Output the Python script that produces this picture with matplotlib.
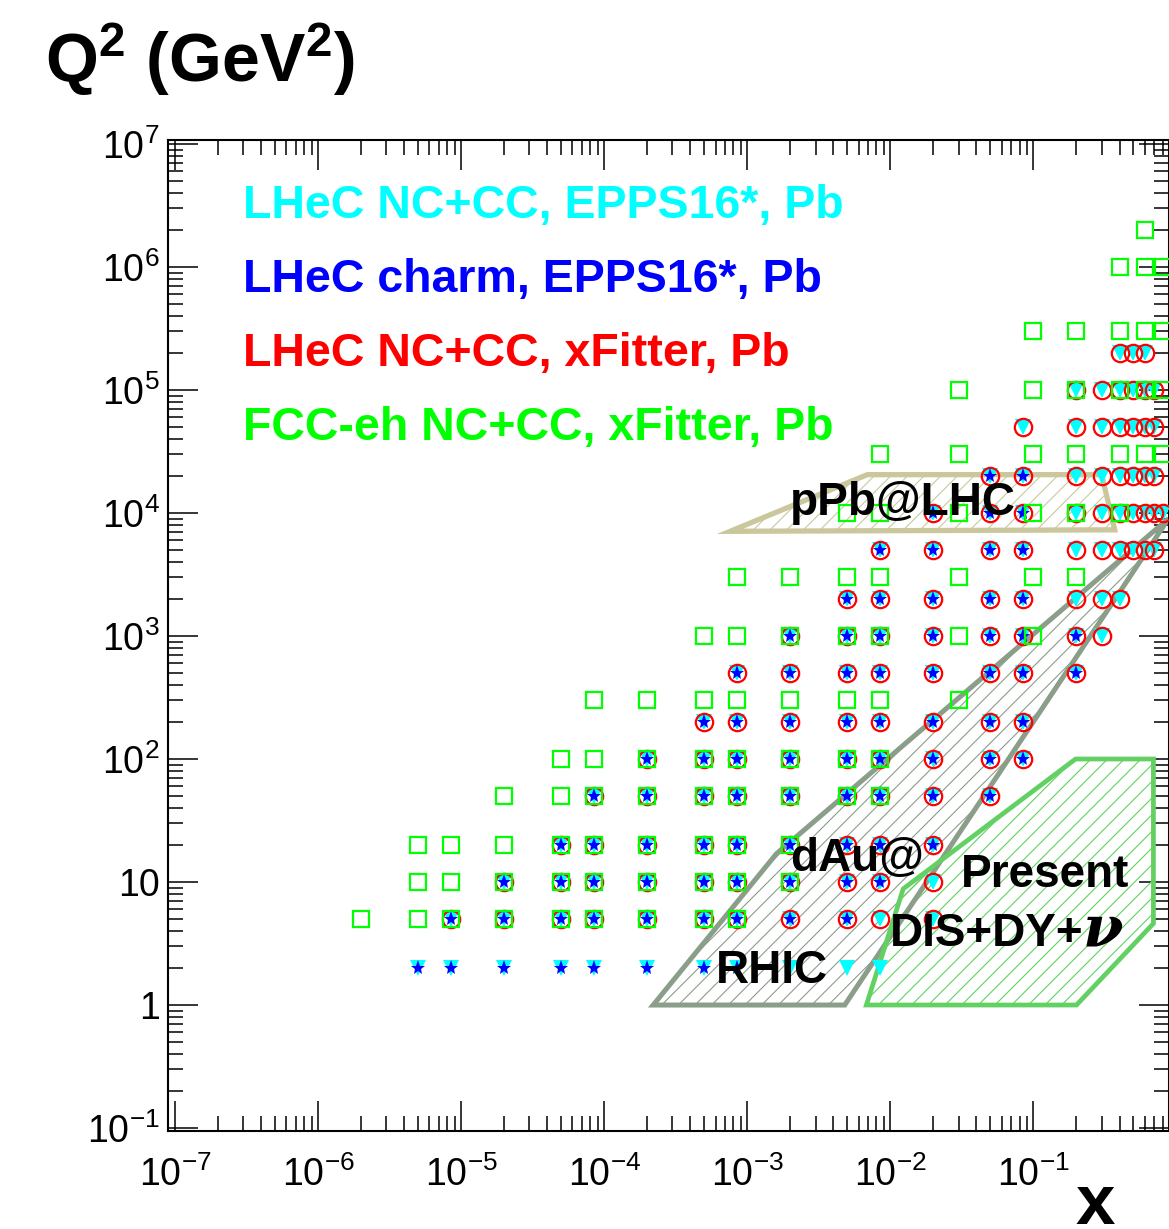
import numpy as np
import matplotlib
matplotlib.use('Agg')
import matplotlib.pyplot as plt
from matplotlib.patches import Polygon
from matplotlib.ticker import LogLocator, FuncFormatter, NullFormatter

plt.rcParams['font.family'] = 'Liberation Sans'
plt.rcParams['mathtext.fontset'] = 'custom'
plt.rcParams['mathtext.rm'] = 'Liberation Sans'
plt.rcParams['mathtext.it'] = 'Liberation Sans:italic'
plt.rcParams['mathtext.bf'] = 'Liberation Sans:bold'
plt.rcParams['hatch.linewidth'] = 0.8

# LHeC NC+CC pseudodata grid (xFitter), one list of x per Q2 row
lhec_q2 = [5, 10, 20, 50, 100, 200, 500, 1000, 2000, 5000, 1e4, 2e4, 5e4, 1e5, 2e5]
lhec_x = [
    [8.5e-6, 2e-5, 5e-5, 8.5e-5, 2e-4, 5e-4, 8.5e-4, 2e-3, 5e-3, 8.5e-3, 0.02],
    [2e-5, 5e-5, 8.5e-5, 2e-4, 5e-4, 8.5e-4, 2e-3, 5e-3, 8.5e-3, 0.02],
    [5e-5, 8.5e-5, 2e-4, 5e-4, 8.5e-4, 2e-3, 5e-3, 8.5e-3, 0.02],
    [8.5e-5, 2e-4, 5e-4, 8.5e-4, 2e-3, 5e-3, 8.5e-3, 0.02, 0.05],
    [2e-4, 5e-4, 8.5e-4, 2e-3, 5e-3, 8.5e-3, 0.02, 0.05, 0.085],
    [5e-4, 8.5e-4, 2e-3, 5e-3, 8.5e-3, 0.02, 0.05, 0.085],
    [8.5e-4, 2e-3, 5e-3, 8.5e-3, 0.02, 0.05, 0.085, 0.2],
    [2e-3, 5e-3, 8.5e-3, 0.02, 0.05, 0.085, 0.2, 0.3],
    [5e-3, 8.5e-3, 0.02, 0.05, 0.085, 0.2, 0.3, 0.4],
    [8.5e-3, 0.02, 0.05, 0.085, 0.2, 0.3, 0.4, 0.5, 0.6, 0.7],
    [0.02, 0.05, 0.085, 0.2, 0.3, 0.4, 0.5, 0.6, 0.7, 0.8],
    [0.05, 0.085, 0.2, 0.3, 0.4, 0.5, 0.6, 0.7],
    [0.085, 0.2, 0.3, 0.4, 0.5, 0.6, 0.7],
    [0.2, 0.3, 0.4, 0.5, 0.6, 0.7],
    [0.4, 0.5, 0.6],
]

# EPPS16* reweighting uses the same grid plus a Q2 = 2 GeV^2 row
epps_low_q2 = 2
epps_low_x = [5e-6, 8.5e-6, 2e-5, 5e-5, 8.5e-5, 2e-4, 5e-4, 8.5e-4, 2e-3, 5e-3, 8.5e-3]

# LHeC charm pseudodata
charm_q2 = [2, 5, 10, 20, 50, 100, 200, 500, 1000, 2000, 5000, 1e4, 2e4]
charm_x = [
    [5e-6, 8.5e-6, 2e-5, 5e-5, 8.5e-5, 2e-4, 5e-4, 8.5e-4],
    [8.5e-6, 2e-5, 5e-5, 8.5e-5, 2e-4, 5e-4, 8.5e-4, 2e-3, 5e-3],
    [2e-5, 5e-5, 8.5e-5, 2e-4, 5e-4, 8.5e-4, 2e-3, 5e-3, 8.5e-3],
    [5e-5, 8.5e-5, 2e-4, 5e-4, 8.5e-4, 2e-3, 5e-3, 8.5e-3, 0.02],
    [8.5e-5, 2e-4, 5e-4, 8.5e-4, 2e-3, 5e-3, 8.5e-3, 0.02, 0.05],
    [2e-4, 5e-4, 8.5e-4, 2e-3, 5e-3, 8.5e-3, 0.02, 0.05, 0.085],
    [5e-4, 8.5e-4, 2e-3, 5e-3, 8.5e-3, 0.02, 0.05, 0.085],
    [8.5e-4, 2e-3, 5e-3, 8.5e-3, 0.02, 0.05, 0.085, 0.2],
    [2e-3, 5e-3, 8.5e-3, 0.02, 0.05, 0.085, 0.2],
    [5e-3, 8.5e-3, 0.02, 0.05, 0.085],
    [8.5e-3, 0.02, 0.05, 0.085],
    [0.02, 0.05, 0.085],
    [0.05, 0.085],
]

# FCC-eh NC+CC pseudodata (xFitter)
fcc_q2 = [5, 10, 20, 50, 100, 300, 1000, 3000, 1e4, 3e4, 1e5, 3e5, 1e6, 2e6]
fcc_x = [
    [2e-6, 5e-6, 8.5e-6, 2e-5, 5e-5, 8.5e-5, 2e-4, 5e-4, 8.5e-4],
    [5e-6, 8.5e-6, 2e-5, 5e-5, 8.5e-5, 2e-4, 5e-4, 8.5e-4, 2e-3],
    [5e-6, 8.5e-6, 2e-5, 5e-5, 8.5e-5, 2e-4, 5e-4, 8.5e-4, 2e-3],
    [2e-5, 5e-5, 8.5e-5, 2e-4, 5e-4, 8.5e-4, 2e-3, 5e-3, 8.5e-3],
    [5e-5, 8.5e-5, 2e-4, 5e-4, 8.5e-4, 2e-3, 5e-3, 8.5e-3],
    [8.5e-5, 2e-4, 5e-4, 8.5e-4, 2e-3, 5e-3, 8.5e-3, 0.03],
    [5e-4, 8.5e-4, 2e-3, 5e-3, 8.5e-3, 0.03, 0.1],
    [8.5e-4, 2e-3, 5e-3, 8.5e-3, 0.03, 0.1, 0.2],
    [5e-3, 8.5e-3, 0.03, 0.1, 0.2, 0.4],
    [8.5e-3, 0.03, 0.1, 0.2, 0.4, 0.6, 0.8],
    [0.03, 0.1, 0.2, 0.4, 0.6, 0.8],
    [0.1, 0.2, 0.4, 0.6, 0.8],
    [0.4, 0.6, 0.8],
    [0.6],
]

# kinematic regions of existing nuclear data
ppb_x = [7.6e-4, 6.9e-3, 0.30, 0.37]
ppb_q2 = [7.1e3, 2.05e4, 2.05e4, 7.3e3]
dau_x = [2.2e-4, 1.6e-3, 0.88, 4.8e-3]
dau_q2 = [1.0, 17, 9.0e3, 1.0]
present_x = [6.8e-3, 0.0123, 0.197, 0.69, 0.69, 0.20]
present_q2 = [1.0, 8.8, 100, 100, 4.6, 1.0]

legend_labels = ['LHeC NC+CC, EPPS16*, Pb', 'LHeC charm, EPPS16*, Pb',
                 'LHeC NC+CC, xFitter, Pb', 'FCC-eh NC+CC, xFitter, Pb']
legend_colors = ['#00ffff', '#0000ff', '#ff0000', '#00ff00']


def flatten(q2_rows, x_rows):
    xs, qs = [], []
    for q, row in zip(q2_rows, x_rows):
        xs += row
        qs += [q] * len(row)
    return np.array(xs), np.array(qs)


fig = plt.figure(figsize=(11.69, 12.29), dpi=100)
ax = fig.add_axes([0.1437, 0.0797, 0.8559, 0.8064])
ax.set_xscale('log')
ax.set_yscale('log')
ax.set_xlim(8.93e-8, 0.88)
ax.set_ylim(0.0945, 1.078e7)

# hatched regions: hatch layer first, thick outline on top
regions = [
    (ppb_x, ppb_q2, '#cbc99d', '#c9c79b', 3.8),
    (dau_x, dau_q2, '#8d9d8d', '#8a9e8a', 3.6),
    (present_x, present_q2, '#5fd35f', '#62d062', 3.4),
]
for px, pq, hcol, ecol, lw in regions:
    verts = np.column_stack([px, pq])
    ax.add_patch(Polygon(verts, closed=True, facecolor='none', edgecolor=hcol,
                         hatch='//', lw=0, zorder=2))
    ax.add_patch(Polygon(verts, closed=True, fill=False, edgecolor=ecol,
                         lw=lw, joinstyle='miter', zorder=2.1))

# pseudodata points
ex, eq = flatten(lhec_q2, lhec_x)
ex = np.concatenate([epps_low_x, ex])
eq = np.concatenate([[epps_low_q2] * len(epps_low_x), eq])
ax.plot(ex, eq, ls='none', marker='v', ms=11, mfc='#00ffff', mec='#00ffff',
        mew=0, zorder=3)

rx, rq = flatten(lhec_q2, lhec_x)
ax.plot(rx, rq, ls='none', marker='o', ms=12.5, mfc='none', mec='#ff0000',
        mew=1.6, zorder=4)

cx, cq = flatten(charm_q2, charm_x)
ax.plot(cx, cq, ls='none', marker='*', ms=11, mfc='#0000ff', mec='#0000ff',
        mew=0, zorder=5)

fx, fq = flatten(fcc_q2, fcc_x)
ax.plot(fx, fq, ls='none', marker='s', ms=11.5, mfc='none', mec='#00ff00',
        mew=1.6, zorder=6)

# region labels
label_kw = dict(fontsize=33, fontweight='bold', color='black', zorder=8)
ax.text(2.0e-3, 9.6e3, 'pPb@LHC', **label_kw)
ax.text(2.0e-3, 12.3, 'dAu@', **label_kw)
ax.text(6.0e-4, 1.51, 'RHIC', **label_kw)
ax.text(0.031, 9.1, 'Present', **label_kw)
ax.text(0.010, 3.0, 'DIS+DY+', **label_kw)
ax.text(0.222, 3.0, '\u03bd', fontsize=42, color='black', zorder=8,
        family='DejaVu Serif', style='italic', fontweight='bold')

# dataset labels
for i, (lab, col) in enumerate(zip(legend_labels, legend_colors)):
    ax.text(0.075, 0.921 - i * 0.0747, lab, transform=ax.transAxes,
            fontsize=33.5, fontweight='bold', color=col, zorder=8)


def log_label(v, pos):
    e = int(round(np.log10(v)))
    if e == 0:
        return '1'
    if e == 1:
        return '10'
    return r'$\mathdefault{10^{%d}}$' % e


for axis in (ax.xaxis, ax.yaxis):
    axis.set_major_locator(LogLocator(base=10, numticks=100))
    axis.set_minor_locator(LogLocator(base=10, subs=np.arange(2, 10) * 1.0, numticks=100))
    axis.set_major_formatter(FuncFormatter(log_label))
    axis.set_minor_formatter(NullFormatter())

ax.tick_params(which='both', direction='in', top=True, right=True, width=1.1)
ax.tick_params(which='major', length=21.6, labelsize=27)
ax.tick_params(which='minor', length=10.8)
ax.tick_params(axis='x', pad=18)
ax.tick_params(axis='y', pad=6)
for sp in ax.spines.values():
    sp.set_linewidth(1.5)

fig.text(45 / 1169, 1 - 82 / 1229, r'$\mathbf{Q^{2}\ (GeV^{2})}$', fontsize=49,
         ha='left', va='baseline')
fig.text(1095 / 1169, 5 / 1229, 'x', fontsize=51, fontweight='bold',
         ha='center', va='baseline')

fig.savefig('out.png', dpi=100)
